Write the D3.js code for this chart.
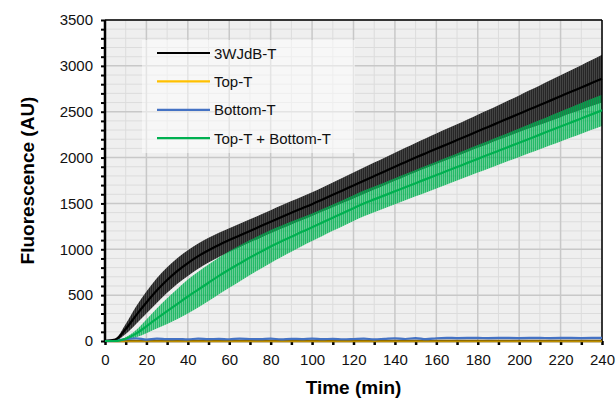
<!DOCTYPE html>
<html>
<head>
<meta charset="utf-8">
<script src="https://cdn.jsdelivr.net/npm/d3@7"></script>
<style>
  body { margin: 0; background: #fff; }
  svg { display: block; font-family: "Liberation Sans", Arial, sans-serif; }
</style>
</head>
<body>
<svg id="chart" width="616" height="402"></svg>
<script>
// time points, minutes (every 5 min)
const times = [0,5,10,15,20,25,30,35,40,45,50,55,60,65,70,75,80,85,90,95,100,
  105,110,115,120,125,130,135,140,145,150,155,160,165,170,175,180,185,190,195,200,
  205,210,215,220,225,230,235,240]

// 3WJdB-T mean and error
const wjdb_mean = [0,15,130,280,420,550,665,765,850,925,990,1047,1100,1150,1200,1250,1300,1350,1398,1445,1492,
  1543,1594,1645,1696,1747,1798,1849,1900,1950,2000,2048,2096,2143,2191,2239,2287,2334,2382,2430,2478,
  2526,2573,2621,2669,2717,2764,2812,2860]
const wjdb_err = [0,10,55,95,120,135,140,140,140,138,135,132,130,128,127,126,126,127,128,129,130,
  132,135,138,141,144,147,150,153,156,160,163,166,170,173,177,181,185,189,194,200,
  207,214,221,228,235,243,251,260]

// Top-T + Bottom-T mean and error
const tb_mean = [0,0,25,80,160,245,325,405,485,560,635,710,780,845,910,970,1030,1085,1137,1190,1240,
  1292,1344,1396,1448,1500,1544,1588,1632,1677,1721,1765,1809,1853,1897,1942,1986,2030,2074,2118,2162,
  2206,2250,2295,2339,2383,2427,2471,2515]
const tb_err = [0,0,15,40,75,110,140,165,185,195,200,200,200,195,190,185,180,172,165,157,150,
  146,143,141,140,140,140,141,142,143,144,145,146,147,148,149,150,151,152,153,155,
  157,159,161,163,165,167,169,170]

// Top-T and Bottom-T controls (flat, near zero)
const top_mean = [0,-2,-3,-2,-3,-4,-3,-3,-4,-3,-3,-4,-3,-3,-4,-3,-3,-4,-3,-3,-4,
  -3,-3,-4,-3,-3,-4,-3,-3,-4,-3,-3,-4,-3,-3,-4,-3,-3,-4,-3,-3,-4,-3,-3,-4,-3,-3,-4,-3]
const bottom_mean = [0,5,20,30,15,25,20,22,18,25,20,24,19,26,22,20,25,18,24,21,26,
  20,24,19,22,26,18,24,30,22,32,20,30,34,32,33,33,32,33,33,32,33,33,32,33,33,32,33,33]

const seriesNames = ['3WJdB-T', 'Top-T', 'Bottom-T', 'Top-T + Bottom-T']
const seriesColors = ['#000000', '#ffc000', '#4472c4', '#00b050']

const xTicks = d3.range(0, 241, 20)
const yTicks = d3.range(0, 3501, 500)

const margin = {left: 105, right: 14, top: 20, bottom: 61}
const width = 616 - margin.left - margin.right
const height = 402 - margin.top - margin.bottom

const svg = d3.select('#chart')
const g = svg.append('g').attr('transform', `translate(${margin.left},${margin.top})`)

const x = d3.scaleLinear([0, 240], [0, width])
const y = d3.scaleLinear([0, 3500], [height, 0])

// stripe patterns for the error bands
const defs = svg.append('defs')
const blackPat = defs.append('pattern')
    .attr('id', 'stripe-black')
    .attr('patternUnits', 'userSpaceOnUse')
    .attr('width', 2).attr('height', 4)
blackPat.append('rect').attr('width', 2).attr('height', 4).attr('fill', '#444444')
blackPat.append('rect').attr('width', 1).attr('height', 4).attr('fill', '#262626')
const greenPat = defs.append('pattern')
    .attr('id', 'stripe-green')
    .attr('patternUnits', 'userSpaceOnUse')
    .attr('width', 2).attr('height', 4)
greenPat.append('rect').attr('width', 2).attr('height', 4).attr('fill', '#00b050').attr('opacity', 0.56)
greenPat.append('rect').attr('width', 1).attr('height', 4).attr('fill', '#00b050').attr('opacity', 0.66)

defs.append('clipPath').attr('id', 'plot-clip')
    .append('rect').attr('width', width).attr('height', height)

// background
g.append('rect')
    .attr('width', width).attr('height', height)
    .attr('fill', '#efefef')

// minor grid
g.append('g').selectAll('line')
    .data(d3.range(100, 3500, 100).filter(v => v % 500 != 0))
    .join('line')
      .attr('x1', 0).attr('x2', width)
      .attr('y1', d => y(d)).attr('y2', d => y(d))
      .attr('stroke', '#dcdcdc').attr('stroke-width', 1)
g.append('g').selectAll('line')
    .data(d3.range(10, 240, 20))
    .join('line')
      .attr('y1', 0).attr('y2', height)
      .attr('x1', d => x(d)).attr('x2', d => x(d))
      .attr('stroke', '#dcdcdc').attr('stroke-width', 1)
// major grid
g.append('g').selectAll('line')
    .data(yTicks.slice(1))
    .join('line')
      .attr('x1', 0).attr('x2', width)
      .attr('y1', d => y(d)).attr('y2', d => y(d))
      .attr('stroke', '#c8c8c8').attr('stroke-width', 1.5)
g.append('g').selectAll('line')
    .data(xTicks.slice(1))
    .join('line')
      .attr('y1', 0).attr('y2', height)
      .attr('x1', d => x(d)).attr('x2', d => x(d))
      .attr('stroke', '#c8c8c8').attr('stroke-width', 1.5)

const I = d3.range(times.length)
const plot = g.append('g').attr('clip-path', 'url(#plot-clip)')

const band = (mean, err) => d3.area()
    .curve(d3.curveMonotoneX)
    .x(i => x(times[i]))
    .y0(i => y(mean[i] - err[i]))
    .y1(i => y(mean[i] + err[i]))
const line = (mean) => d3.line()
    .curve(d3.curveMonotoneX)
    .x(i => x(times[i]))
    .y(i => y(mean[i]))

plot.append('path')
    .attr('d', band(wjdb_mean, wjdb_err)(I))
    .attr('fill', 'url(#stripe-black)')
plot.append('path')
    .attr('d', band(tb_mean, tb_err)(I))
    .attr('fill', 'url(#stripe-green)')

// frame: top / right thin
g.append('line').attr('x1', 0).attr('x2', width).attr('y1', 0).attr('y2', 0)
    .attr('stroke', '#000').attr('stroke-width', 1.5)
g.append('line').attr('x1', width).attr('x2', width).attr('y1', 0).attr('y2', height)
    .attr('stroke', '#000').attr('stroke-width', 1.5)

const yAxis = g.append('g')
    .call(d3.axisLeft(y).tickValues(d3.range(0, 3501, 100)).tickSize(4).tickFormat(''))
yAxis.select('.domain').remove()
yAxis.selectAll('line').attr('stroke-width', 2)
const yLabels = g.append('g')
    .call(d3.axisLeft(y).tickValues(yTicks).tickSize(0).tickPadding(12).tickFormat(d3.format('d')))
yLabels.select('.domain').remove()
yLabels.selectAll('text').attr('font-size', 15).attr('fill', '#111').attr('font-family', 'Liberation Sans, Arial, sans-serif')

const xAxis = g.append('g').attr('transform', `translate(0,${height})`)
    .call(d3.axisBottom(x).tickValues(d3.range(0, 241, 10)).tickSize(4).tickFormat(''))
xAxis.select('.domain').remove()
xAxis.selectAll('line').attr('stroke-width', 2.5)
const xLabels = g.append('g').attr('transform', `translate(0,${height})`)
    .call(d3.axisBottom(x).tickValues(xTicks).tickSize(0).tickPadding(13).tickFormat(d3.format('d')))
xLabels.select('.domain').remove()
xLabels.selectAll('text').attr('font-size', 15).attr('fill', '#111').attr('font-family', 'Liberation Sans, Arial, sans-serif')

g.append('line').attr('x1', 0).attr('x2', 0).attr('y1', 0).attr('y2', height + 1)
    .attr('stroke', '#000').attr('stroke-width', 2.5)
g.append('line').attr('x1', -1).attr('x2', width).attr('y1', height).attr('y2', height)
    .attr('stroke', '#000').attr('stroke-width', 2.5)

// mean lines
const means = [wjdb_mean, top_mean, bottom_mean, tb_mean]
const order = [1, 2, 0, 3]
for (const k of order) {
    g.append('path')
        .attr('d', line(means[k])(I))
        .attr('fill', 'none')
        .attr('stroke', seriesColors[k])
        .attr('stroke-width', k == 1 ? 2 : 2.2)
        .attr('opacity', k == 1 ? 0.75 : 1)
}

// legend
const legend = g.append('g').attr('transform', 'translate(37,20)')
legend.append('rect')
    .attr('width', 213).attr('height', 113)
    .attr('fill', '#ffffff').attr('opacity', 0.5)
seriesNames.forEach((name, i) => {
    const ly = 13 + i * 28.4
    legend.append('line')
        .attr('x1', 15).attr('x2', 68).attr('y1', ly).attr('y2', ly)
        .attr('stroke', seriesColors[i]).attr('stroke-width', 2.2)
    legend.append('text')
        .attr('x', 72).attr('y', ly + 5.5)
        .attr('font-size', 15).attr('fill', '#111')
        .text(name)
})

// axis titles
svg.append('text')
    .attr('x', margin.left + width / 2).attr('y', 394)
    .attr('text-anchor', 'middle')
    .attr('font-size', 19).attr('font-weight', 'bold')
    .text('Time (min)')
svg.append('text')
    .attr('transform', `translate(34,${margin.top + height / 2}) rotate(-90)`)
    .attr('text-anchor', 'middle')
    .attr('font-size', 19).attr('font-weight', 'bold')
    .text('Fluorescence (AU)')
</script>
</body>
</html>
